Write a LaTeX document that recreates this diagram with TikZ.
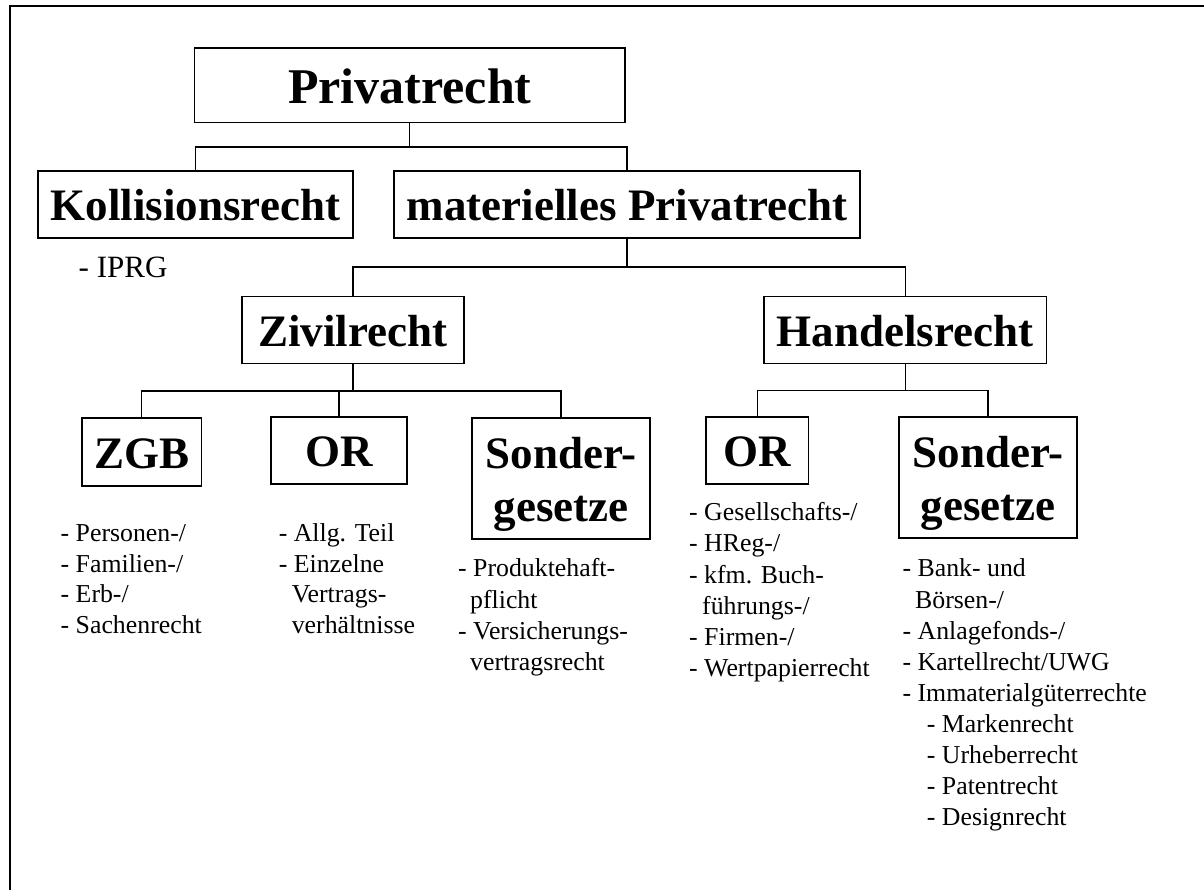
\documentclass[tikz,border=0pt]{standalone}
\usepackage{fontspec}
\setmainfont{Liberation Serif}
\tikzset{
  lbox/.style={draw, line width=1.3pt, inner sep=0pt, align=center,
    font=\fontsize{45}{52.7}\selectfont\bfseries, text height=32.8pt, text depth=0pt},
  twoline/.style={text height=85.5pt, text depth=0pt},
  lst/.style={anchor=base west, inner sep=0pt, align=left,
    font=\fontsize{25.8}{31}\selectfont},
  conn/.style={line width=1.2pt}
}
\begin{document}
\begin{tikzpicture}[x=1pt,y=-1pt]
\useasboundingbox (0,0) rectangle (1204,890);
\draw[line width=2pt] (9.5,891) -- (9.5,6.5) -- (1205,6.5);

\node[lbox, minimum width=430.6pt, minimum height=74.3pt,
  font=\fontsize{50}{58}\selectfont\bfseries, text height=37pt] (priv) at (409.7,85.2) {Privatrecht};
\node[lbox, minimum width=315pt, minimum height=67pt] (koll) at (195.5,204.5) {Kollisionsrecht};
\node[lbox, minimum width=466pt, minimum height=67pt] (mat) at (627,204.5) {materielles Privatrecht};
\node[lbox, minimum width=222pt, minimum height=67pt] (ziv) at (353,330.2) {Zivilrecht};
\node[lbox, minimum width=282.5pt, minimum height=67pt] (han) at (905.2,330.3) {Handelsrecht};
\node[lbox, minimum width=119.7pt, minimum height=68pt] (zgb) at (141.8,452) {ZGB};
\node[lbox, minimum width=136pt, minimum height=67pt] (orz) at (339,450.5) {OR};
\node[lbox, twoline, minimum width=178pt, minimum height=121pt] (sonz) at (561,478.5) {Sonder-\\gesetze};
\node[lbox, minimum width=102.4pt, minimum height=67pt] (orh) at (757.2,450.5) {OR};
\node[lbox, twoline, minimum width=178pt, minimum height=121pt] (sonh) at (988,477.5) {Sonder-\\gesetze};

\coordinate (b1) at (0,147);
\coordinate (b2) at (0,267);
\coordinate (b3) at (0,391);
\coordinate (b4) at (0,390.5);

\draw[conn] (priv.south) -- (priv.south |- b1);
\draw[conn] (koll.north) -- (koll.north |- b1) -- (mat.north |- b1) -- (mat.north);
\draw[conn] (mat.south) -- (mat.south |- b2);
\draw[conn] (ziv.north) -- (ziv.north |- b2) -- (han.north |- b2) -- (han.north);
\draw[conn] (ziv.south) -- (ziv.south |- b3);
\draw[conn] (zgb.north) -- (zgb.north |- b3) -- (sonz.north |- b3) -- (sonz.north);
\draw[conn] (orz.north) -- (orz.north |- b3);
\draw[conn] (han.south) -- (han.south |- b4);
\draw[conn] (orh.north) -- (orh.north |- b4) -- (sonh.north |- b4) -- (sonh.north);

% list nodes: base anchor = baseline of the last line
\node[lst, font=\fontsize{31}{35}\selectfont] (iprg) at (78.5,278) {- IPRG};
\node[lst, font=\fontsize{25.8}{30.5}\selectfont] (zgbl) at (60.5,633.3)
  {- Personen-/\\- Familien-/\\- Erb-/\\- Sachenrecht};
\node[lst, font=\fontsize{25.8}{30.5}\selectfont] (orzl) at (278.6,633.3)
  {- Allg. Teil\\- Einzelne\\\hspace*{13pt}Vertrags-\\\hspace*{13pt}verhältnisse};
\node[lst, font=\fontsize{25.8}{31.3}\selectfont] (sonzl) at (458,670.7)
  {- Produktehaft-\\\hspace*{12pt}pflicht\\- Versicherungs-\\\hspace*{12pt}vertragsrecht};
\node[lst, font=\fontsize{25.8}{31.2}\selectfont] (orhl) at (689,676.7)
  {- Gesellschafts-/\\- HReg-/\\- kfm. Buch-\\\hspace*{13pt}führungs-/\\- Firmen-/\\- Wertpapierrecht};
\node[lst, font=\fontsize{25.8}{31.1}\selectfont] (sonhl) at (902.4,825.7)
  {- Bank- und\\\hspace*{12.6pt}Börsen-/\\- Anlagefonds-/\\- Kartellrecht/UWG\\- Immaterialgüterrechte\\
   \hspace*{24.3pt}- Markenrecht\\\hspace*{24.3pt}- Urheberrecht\\\hspace*{24.3pt}- Patentrecht\\\hspace*{24.3pt}- Designrecht};
\end{tikzpicture}
\end{document}
